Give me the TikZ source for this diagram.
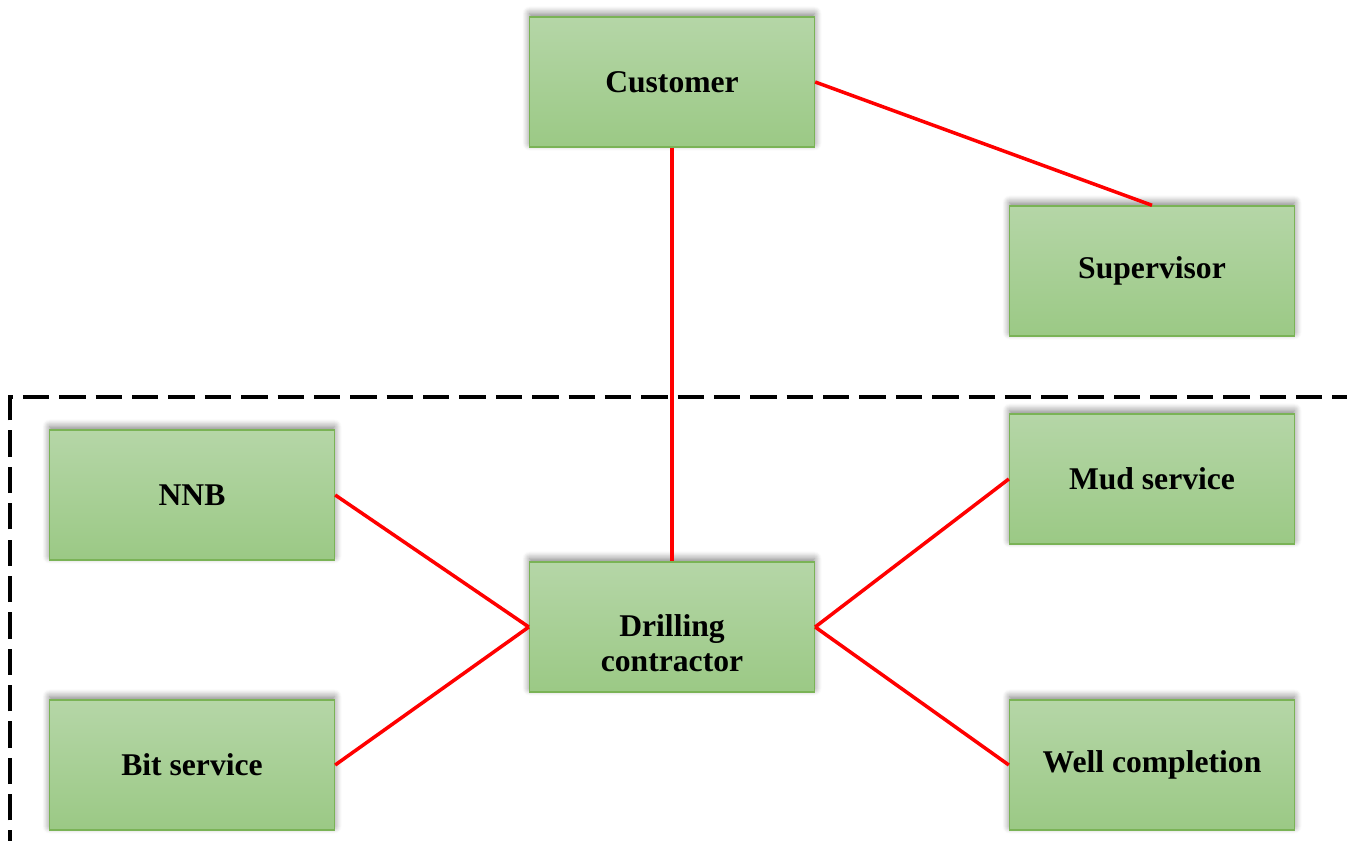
\documentclass[tikz,border=0pt]{standalone}
\usepackage{fontspec}
\setmainfont{Liberation Serif}
\usetikzlibrary{shadows.blur}
\definecolor{boxtop}{HTML}{B5D6A7}
\definecolor{boxbot}{HTML}{9BC985}
\definecolor{boxline}{HTML}{7AB356}
\tikzset{
    unit/.style={draw=boxline, line width=0.8pt, top color=boxtop, bottom color=boxbot,
        minimum width=5.7cm, minimum height=2.6cm, align=center,
        font=\fontsize{18}{20}\selectfont\bfseries,
        blur shadow={shadow xshift=0pt, shadow yshift=2pt, shadow blur radius=4pt, shadow blur steps=8, shadow opacity=50}},
    link/.style={red, line width=2pt}
}
\begin{document}
\begin{tikzpicture}[x=0.02cm, y=-0.02cm]
    \useasboundingbox (0,0) rectangle (1347,841);
    % dashed frame
    \draw [line width=1.8pt, dash pattern=on 15pt off 5.7pt, dash phase=9pt] (10,841) -- (10,397) -- (1347,397);
    % units
    \node [unit] (customer) at (672,82) {Customer};
    \node [unit] (supervisor) at (1152,271) {Supervisor};
    \node [unit] (nnb) at (192,495) {NNB};
    \node [unit] (bit) at (192,765) {Bit service};
    \node [unit] (drilling) at (672,627) {\rule{0pt}{31pt}Drilling\\contractor};
    \node [unit] (mud) at (1152,479) {Mud service};
    \node [unit] (well) at (1152,765) {Well completion};
    % links
    \draw [link] (customer.east) -- (supervisor.north);
    \draw [link] (customer.south) -- (drilling.north);
    \draw [link] (nnb.east) -- (drilling.west);\draw [link] (bit.east) -- (drilling.west);
    \draw [link] (drilling.east) -- (mud.west);\draw [link] (drilling.east) -- (well.west);
\end{tikzpicture}
\end{document}
